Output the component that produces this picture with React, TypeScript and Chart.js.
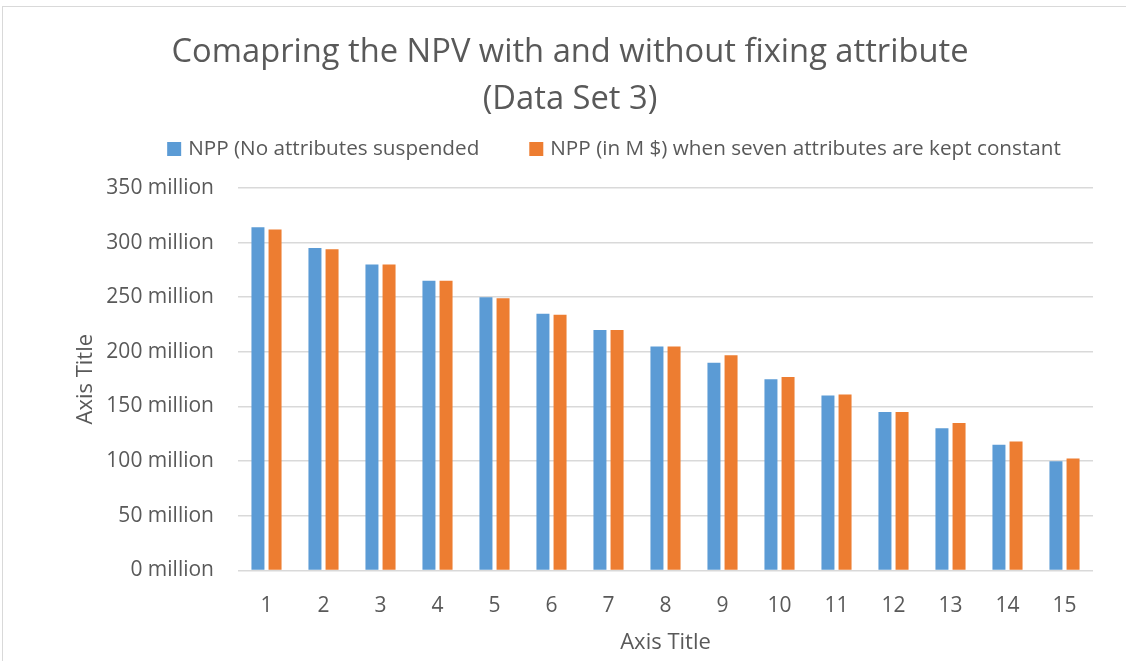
import { useEffect, useRef } from 'react';
import { Chart, registerables } from 'chart.js';

Chart.register(...registerables);

const titleLines = ['Comapring the NPV with and without fixing attribute', '(Data Set 3)'];
const categories = ['1', '2', '3', '4', '5', '6', '7', '8', '9', '10', '11', '12', '13', '14', '15'];
const seriesLabels = ['NPP (No attributes suspended', 'NPP (in M $) when seven attributes are kept constant'];
const npvNoSuspended = [314, 295, 280, 265, 250, 235, 220, 205, 190, 175, 160, 145, 130, 115, 100];
const npvSevenConstant = [312, 294, 280, 265, 249, 234, 220, 205, 197, 177, 161, 145, 135, 118, 102.5];
const yTicks = [0, 50, 100, 150, 200, 250, 300, 350];
const xAxisTitle = 'Axis Title';
const yAxisTitle = 'Axis Title';

const FONT = '"Open Sans", Lato, sans-serif';
const TEXT = '#595959';
const BLUE = '#5B9BD5';
const ORANGE = '#ED7D31';

const customLegend = {
  id: 'customLegend',
  afterDraw(chart: any) {
    const ctx = chart.ctx;
    ctx.save();
    ctx.font = `20.7px ${FONT}`;
    ctx.textBaseline = 'middle';
    ctx.textAlign = 'left';
    const box = 14;
    const gapBoxText = 7;
    const gapItems = 50;
    const items = chart.data.datasets.map((d: any) => ({ label: d.label, color: d.backgroundColor, w: ctx.measureText(d.label).width }));
    const total = items.reduce((s: number, it: any) => s + box + gapBoxText + it.w, 0) + gapItems * (items.length - 1);
    const centerX = chart.width / 2 + 51;
    const cy = 149;
    let x = centerX - total / 2;
    for (const it of items) {
      ctx.fillStyle = it.color;
      ctx.fillRect(x, cy - box / 2, box, box);
      ctx.fillStyle = TEXT;
      ctx.fillText(it.label, x + box + gapBoxText, cy);
      x += box + gapBoxText + it.w + gapItems;
    }
    ctx.restore();
  },
};

export default function App() {
  const ref = useRef<HTMLCanvasElement>(null);
  useEffect(() => {
    const chart = new Chart(ref.current!, {
      type: 'bar',
      data: {
        labels: categories,
        datasets: [
          { label: seriesLabels[0], data: npvNoSuspended, backgroundColor: BLUE, categoryPercentage: 0.6, barPercentage: 0.76 },
          { label: seriesLabels[1], data: npvSevenConstant, backgroundColor: ORANGE, categoryPercentage: 0.6, barPercentage: 0.76 },
        ],
      },
      options: {
        animation: false,
        responsive: false,
        layout: { padding: { left: 47, right: 33, top: 0, bottom: 5 } },
        plugins: {
          legend: { display: false },
          tooltip: { enabled: false },
          title: {
            display: true,
            text: titleLines,
            color: TEXT,
            font: { family: FONT, size: 32.7, weight: 'normal', lineHeight: 1.437 },
            padding: { top: 29, bottom: 65 },
          },
        },
        scales: {
          x: {
            grid: { display: false, drawTicks: false },
            border: { display: false },
            ticks: { color: TEXT, font: { family: FONT, size: 21 }, padding: 23 },
            title: { display: true, text: xAxisTitle, color: TEXT, font: { family: FONT, size: 22 }, padding: { top: -12, bottom: 0 } },
          },
          y: {
            min: 0,
            max: 350,
            afterBuildTicks: (scale: any) => { scale.ticks = yTicks.map((v) => ({ value: v })); },
            afterFit: (scale: any) => { scale.width = 191; },
            ticks: { color: TEXT, font: { family: FONT, size: 21 }, padding: 24, callback: (v: any) => `${v} million` },
            grid: { color: '#d9d9d9', lineWidth: 1.5, drawTicks: false },
            border: { display: false },
            title: { display: true, text: yAxisTitle, color: TEXT, font: { family: FONT, size: 22 }, padding: { top: 26, bottom: 0 } },
          },
        },
      },
      plugins: [customLegend],
    });
    return () => chart.destroy();
  }, []);
  return (
    <div style={{ position: 'fixed', left: 0, top: 0, width: 1126, height: 661, background: '#fff', overflow: 'hidden' }}>
      <div style={{ position: 'absolute', left: 2, top: 6, width: 1140, height: 700, border: '1px solid #d9d9d9' }} />
      <canvas ref={ref} width={1126} height={661} style={{ position: 'absolute', left: 0, top: 0 }} />
    </div>
  );
}
